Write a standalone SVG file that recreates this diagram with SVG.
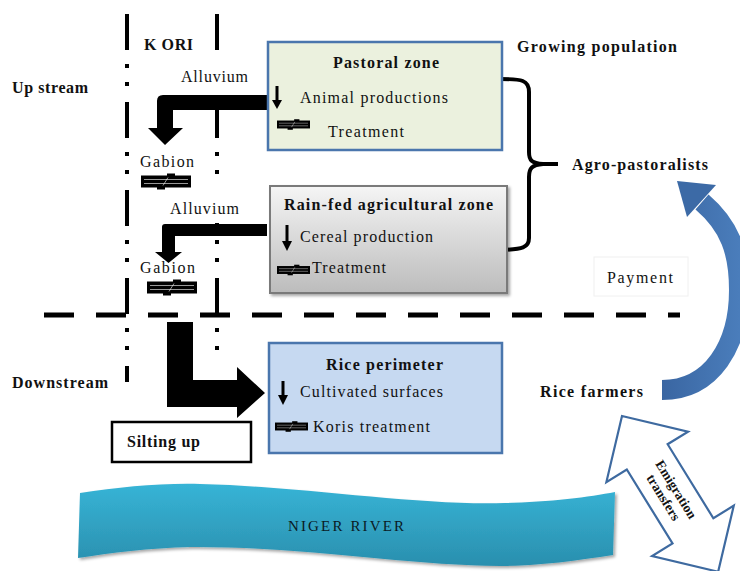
<svg xmlns="http://www.w3.org/2000/svg" width="740" height="571" viewBox="0 0 740 571" font-family="'Liberation Serif', 'DejaVu Serif', serif">
<style>
text{font-family:"Liberation Serif","DejaVu Serif",serif;fill:#111;}
.b{font-weight:bold;font-size:16px;}
.n{font-size:16px;}
.vline{stroke:#000;stroke-width:4;stroke-dasharray:36 14 4 14 4 16;fill:none;}
.hline{stroke:#000;stroke-width:5;stroke-dasharray:30 22;fill:none;}
.big{fill:#000;}
.sm{stroke:#000;stroke-width:3;fill:none;}
</style>
<defs>
<symbol id="tr" viewBox="0 0 50 16">
<rect x="0" y="2" width="50" height="12" fill="#000"/>
<rect x="26" y="0" width="8" height="3" fill="#000"/>
<rect x="16" y="13" width="8" height="3" fill="#000"/>
<line x1="3" y1="6" x2="47" y2="6" stroke="#fff" stroke-width="0.6"/>
<line x1="3" y1="10" x2="47" y2="10" stroke="#fff" stroke-width="0.6"/>
<line x1="22" y1="12" x2="27" y2="4" stroke="#fff" stroke-width="0.6"/>
</symbol>
<linearGradient id="gray" x1="0" y1="0" x2="0" y2="1">
<stop offset="0" stop-color="#f5f5f5"/><stop offset="1" stop-color="#bcbcbc"/>
</linearGradient>
<linearGradient id="river" x1="0" y1="0" x2="0" y2="1">
<stop offset="0" stop-color="#37b4d6"/><stop offset="1" stop-color="#2a8fae"/>
</linearGradient>
<linearGradient id="blue" x1="0" y1="0" x2="1" y2="0">
<stop offset="0" stop-color="#3a66a2"/><stop offset="1" stop-color="#4a7dbb"/>
</linearGradient>
<filter id="sh" x="-10%" y="-10%" width="130%" height="130%">
<feDropShadow dx="2" dy="2" stdDeviation="1.5" flood-color="#000" flood-opacity="0.35"/>
</filter>
</defs>

<g id="guides">
<line class="vline" x1="127" y1="14" x2="127" y2="382"/>
<line class="vline" x1="217" y1="14" x2="217" y2="350"/>
<line class="hline" x1="44" y1="315" x2="680" y2="315"/>
</g>

<g id="labels">
<text class="b" x="12" y="93" textLength="76">Up stream</text>
<text class="b" x="12" y="388" textLength="96">Downstream</text>
<text class="b" x="144" y="50" textLength="49">K ORI</text>
<text class="b" x="517" y="52" textLength="160">Growing population</text>
</g>

<g id="alluvium1">
<rect x="165" y="57" width="103" height="37" fill="#fff"/>
<text class="n" x="181" y="82" textLength="67">Alluvium</text>
</g>
<g id="alluvium2">
<rect x="153" y="190" width="115" height="33" fill="#fff"/>
<text class="n" x="170" y="214" textLength="69">Alluvium</text>
</g>

<g id="gabion1">
<text class="n" x="140" y="167" textLength="54">Gabion</text>
<use href="#tr" x="141" y="173" width="50" height="17"/>
</g>
<g id="gabion2">
<text class="n" x="140" y="273" textLength="55">Gabion</text>
<use href="#tr" x="147" y="279" width="50" height="17"/>
</g>

<g id="connectors">
<path class="big" d="M268,95 L163,95 Q157,95 157,101 L157,128 L148,128 L165,145 L183,128 L173,128 L173,110 L268,110 Z"/>
<path class="big" d="M267,224 L165,224 Q162,224 162,227 L162,252 L155,252 L168.5,263 L182,252 L175,252 L175,236 L267,236 Z"/>
<path class="big" d="M167,322 L193,322 L193,380 L237,380 L237,367 L265,393 L237,418 L237,407 L167,407 Z"/>
<path d="M500,79 C522,79 529,80 529,92 L529,152 C529,161 532,163 543,164 L558,164 M543,164 C532,165 529,168 529,177 L529,238 C529,248 522,249 502,250" stroke="#000" stroke-width="4" fill="none"/>
<path d="M662,390 C712,390 739,345 739,290 C739,252 730,226 702,202" stroke="url(#blue)" stroke-width="20" fill="none"/>
<polygon points="677,181 716,185 687,217" fill="#3c6aa6"/>
</g>

<g id="pastoral">
<rect x="268" y="42" width="234" height="108" fill="#ebf1de" stroke="#4a76ad" stroke-width="2.5"/>
<text class="b" x="333" y="68" textLength="106">Pastoral zone</text>
<line class="sm" x1="277" y1="86" x2="277" y2="101"/>
<polygon points="272,100 282,100 277,109" fill="#000"/>
<text class="n" x="300" y="103" textLength="148">Animal productions</text>
<use href="#tr" x="277" y="117" width="33" height="15"/>
<text class="n" x="328" y="137" textLength="76">Treatment</text>
</g>

<g id="rainfed">
<rect x="270" y="186" width="237" height="107" fill="url(#gray)" stroke="#7a7a7a" stroke-width="2" filter="url(#sh)"/>
<text class="b" x="284" y="210" textLength="209">Rain-fed agricultural zone</text>
<line class="sm" x1="287" y1="225" x2="287" y2="242"/>
<polygon points="282,241 292,241 287,251" fill="#000"/>
<text class="n" x="300" y="242" textLength="133">Cereal production</text>
<use href="#tr" x="277" y="262" width="33" height="16"/>
<text class="n" x="312" y="273" textLength="74">Treatment</text>
</g>

<g id="rice">
<rect x="269" y="343" width="233" height="110" fill="#c6d9f1" stroke="#4a76ad" stroke-width="2.5"/>
<text class="b" x="326" y="370" textLength="117">Rice perimeter</text>
<line class="sm" x1="283" y1="381" x2="283" y2="396"/>
<polygon points="278,395 288,395 283,405" fill="#000"/>
<text class="n" x="300" y="397" textLength="143">Cultivated surfaces</text>
<use href="#tr" x="275" y="418" width="33" height="17"/>
<text class="n" x="313" y="432" textLength="117">Koris treatment</text>
</g>

<g id="silting">
<rect x="112" y="422" width="139" height="40" fill="#fff" stroke="#000" stroke-width="2.5"/>
<text class="b" x="127" y="447" textLength="73">Silting up</text>
</g>

<g id="agro">
<text class="b" x="572" y="170" textLength="136">Agro-pastoralists</text>
</g>
<g id="payment">
<rect x="594" y="257" width="94" height="39" fill="#fff" stroke="#f0f0f0" stroke-width="1"/>
<text class="n" x="607" y="283" textLength="66">Payment</text>
</g>
<g id="farmers">
<text class="b" x="540" y="397" textLength="103">Rice farmers</text>
</g>

<g id="river">
<path d="M80,493 C120,487 160,483 200,484 C300,486 420,506 505,503 C550,502 590,497 615,492 L613,555 C580,560 540,566 500,566 C410,566 300,546 190,547 C150,548 110,553 78,558 Z" fill="url(#river)" filter="url(#sh)"/>
<text x="288" y="531" textLength="116" style="font-size:15px;fill:#0a1a24">NIGER RIVER</text>
</g>

<g id="emigration" transform="translate(622,416) rotate(58.3)">
<polygon points="0,0 48,-48 48,-24 135,-24 135,-48 183,0 135,48 135,24 48,24 48,48" fill="#fff" stroke="#3e6aa0" stroke-width="2.2" stroke-linejoin="miter"/>
<text x="91" y="-3" text-anchor="middle" style="font-size:13.5px;font-weight:bold">Emigration</text>
<text x="91" y="12" text-anchor="middle" style="font-size:13.5px;font-weight:bold">transfers</text>
</g>
</svg>
